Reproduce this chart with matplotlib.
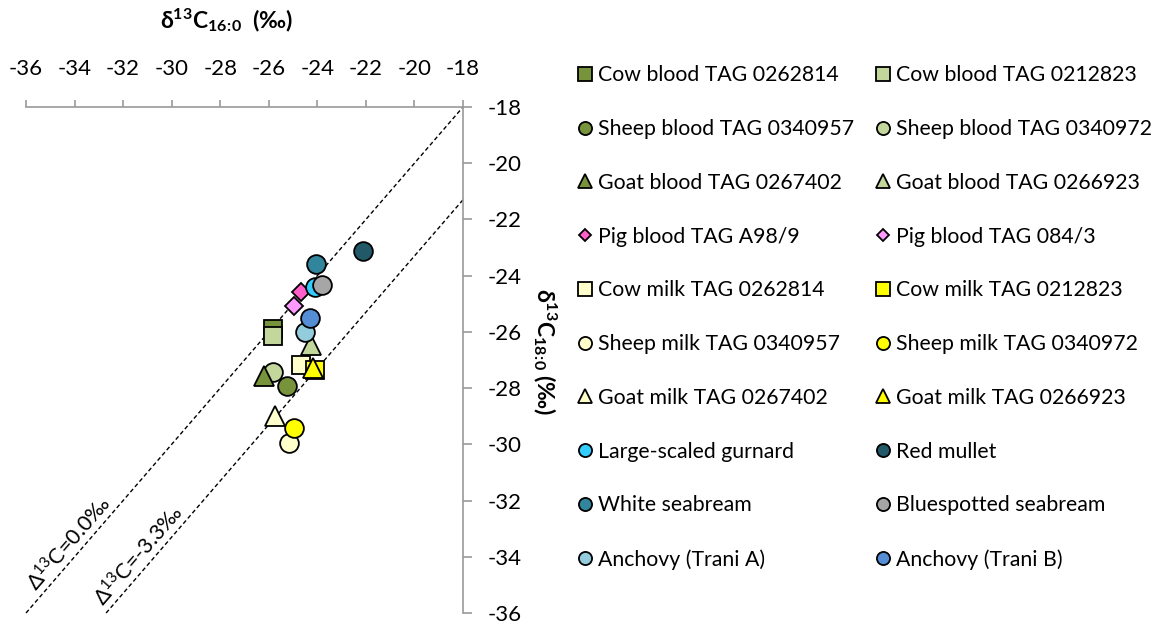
import matplotlib
matplotlib.use('Agg')
import matplotlib.pyplot as plt
from matplotlib.lines import Line2D

plt.rcParams['font.family'] = ['Lato', 'DejaVu Sans']
plt.rcParams['mathtext.fontset'] = 'custom'
plt.rcParams['mathtext.rm'] = 'Lato'
plt.rcParams['mathtext.bf'] = 'Lato:bold'
plt.rcParams['mathtext.it'] = 'Lato:italic'
plt.rcParams['mathtext.fallback'] = 'stixsans'
plt.rcParams['axes.unicode_minus'] = False

# series, in legend order (row by row)
names = ['Cow blood TAG 0262814', 'Cow blood TAG 0212823',
         'Sheep blood TAG 0340957', 'Sheep blood TAG 0340972',
         'Goat blood TAG 0267402', 'Goat blood TAG 0266923',
         'Pig blood TAG A98/9', 'Pig blood TAG 084/3',
         'Cow milk TAG 0262814', 'Cow milk TAG 0212823',
         'Sheep milk TAG 0340957', 'Sheep milk TAG 0340972',
         'Goat milk TAG 0267402', 'Goat milk TAG 0266923',
         'Large-scaled gurnard', 'Red mullet',
         'White seabream', 'Bluespotted seabream',
         'Anchovy (Trani A)', 'Anchovy (Trani B)']
d13c_16 = [-25.84, -25.84, -25.25, -25.83, -26.21, -24.25, -24.69, -24.95,
           -24.67, -24.08, -25.18, -24.98, -25.73, -24.18,
           -24.08, -22.12, -24.04, -23.81, -24.49, -24.29]
d13c_18 = [-25.88, -26.14, -27.93, -27.42, -27.57, -26.45, -24.57, -25.07,
           -27.18, -27.36, -29.95, -29.41, -29.00, -27.30,
           -24.39, -23.11, -23.60, -24.33, -26.00, -25.50]
markers = ['s', 's', 'o', 'o', '^', '^', 'D', 'D',
           's', 's', 'o', 'o', '^', '^',
           'o', 'o', 'o', 'o', 'o', 'o']
colors = ['#77933C', '#C3D69B', '#77933C', '#C3D69B', '#77933C', '#C3D69B',
          '#FF5FC8', '#FF99FF', '#FFFFCC', '#FFFF00', '#FFFFCC', '#FFFF00',
          '#FFFFCC', '#FFFF00', '#33CCFF', '#215968', '#31859C', '#A6A6A6',
          '#93CDDD', '#558ED5']
msizes = {'s': 13.5, 'o': 13.5, '^': 14, 'D': 9}

# reference lines: d18 = d16 + offset
line_offsets = [0.0, -3.3]
line_labels = ['Δ$^{13}$C=0.0‰', 'Δ$^{13}$C=-3.3‰']
label_x = [-34.2, -31.35]

axis_min, axis_max = -36, -18

fig = plt.figure(figsize=(11.68, 6.27), dpi=100)
ax = fig.add_axes([26 / 1168, 14 / 627, 437 / 1168, 506 / 627])
ax.set_xlim(axis_min, axis_max)
ax.set_ylim(axis_min, axis_max)

for off, lab, lx in zip(line_offsets, line_labels, label_x):
    x0 = max(axis_min, axis_min - off)
    ax.plot([x0, axis_max], [x0 + off, axis_max + off], ls=(0, (3, 2)),
            color='black', lw=1, zorder=1, clip_on=False)
    ax.text(lx, lx + off + 0.68, lab, rotation=45, transform_rotates_text=True,
            rotation_mode='anchor', ha='center', va='center', fontsize=15.5)

handles = []
for i in range(len(names)):
    ax.plot(d13c_16[i], d13c_18[i], ls='none', marker=markers[i],
            ms=msizes[markers[i]], mfc=colors[i], mec='black', mew=1.3,
            zorder=3 + i, clip_on=False)
    handles.append(Line2D([], [], ls='none', marker=markers[i],
                          ms=msizes[markers[i]] * 0.7, mfc=colors[i],
                          mec='black', mew=1.3))

ax.set_xticks(range(axis_min, axis_max + 1, 2))
ax.set_yticks(range(axis_min, axis_max + 1, 2))
ax.xaxis.tick_top()
ax.yaxis.tick_right()
for s in ['bottom', 'left']:
    ax.spines[s].set_visible(False)
for s in ['top', 'right']:
    ax.spines[s].set_color('#9A9A9A')
    ax.spines[s].set_linewidth(1.2)
ax.tick_params(axis='x', direction='out', length=5, width=1.2, color='#9A9A9A',
               pad=15, labelsize=16)
ax.tick_params(axis='y', direction='out', length=6.5, width=1.2, color='#9A9A9A',
               pad=11, labelsize=16)

fig.text(226 / 1168, 1 - 20 / 627,
         'δ$^{\\mathbf{13}}$C$_{\\mathbf{16\\!:\\!0}}$  (‰)',
         ha='center', va='center', fontsize=16.5, fontweight='bold')
fig.text(545 / 1168, 1 - 352 / 627,
         'δ$^{\\mathbf{13}}$C$_{\\mathbf{18\\!:\\!0}}$ (‰)',
         ha='center', va='center', fontsize=16.5, fontweight='bold', rotation=-90)

# legend: two columns, row-wise order
for col, left in enumerate([576, 874]):
    fig.legend(handles[col::2], names[col::2], loc='center left',
               bbox_to_anchor=(left / 1168, 1 - 317.5 / 627),
               frameon=False, fontsize=15.3, handlelength=0.8,
               handletextpad=0.25, labelspacing=1.59, borderpad=0,
               borderaxespad=0)

fig.savefig('out.png', dpi=100)
